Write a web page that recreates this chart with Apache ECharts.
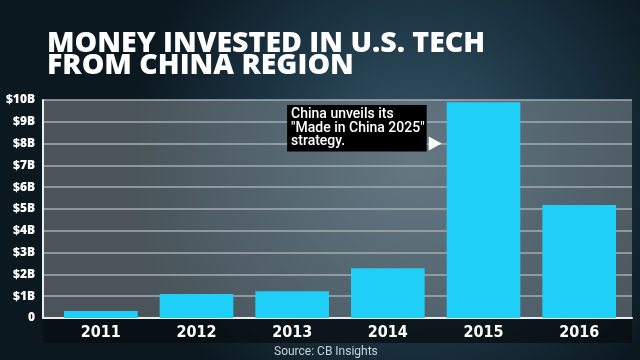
<!DOCTYPE html>
<html>
<head>
<meta charset="utf-8">
<script src="https://cdn.jsdelivr.net/npm/echarts@6/dist/echarts.min.js"></script>
<style>
html,body{margin:0;padding:0;background:#10202b;}
#chart{width:640px;height:360px;}
</style>
</head>
<body>
<div id="chart"></div>
<script>
// ---- data ----
const years = ['2011', '2012', '2013', '2014', '2015', '2016'];
const invested = [0.32, 1.1, 1.23, 2.28, 9.9, 5.18]; // $ billions
const yTickLabels = ['0', '$1B', '$2B', '$3B', '$4B', '$5B', '$6B', '$7B', '$8B', '$9B', '$10B'];
const titleLines = ['MONEY INVESTED IN U.S. TECH', 'FROM CHINA REGION'];
const noteLines = ['China unveils its', '"Made in China 2025"', 'strategy.'];
const noteYear = '2015';
const noteLevel = 8;
const sourceText = 'Source: CB Insights';

// ---- layout ----
const W = 640, H = 360;
const panelL = 43, panelR = 632, plotTop = 100, plotBottom = 318;
const barL = 53, barR = 627;
const barGap = 0.23;

const chart = echarts.init(document.getElementById('chart'), null, {renderer: 'canvas'});

const option = {
  animation: false,
  backgroundColor: {
    type: 'radial', x: 0.65, y: 0.45, r: 0.8,
    colorStops: [
      {offset: 0, color: '#3b5869'},
      {offset: 0.5, color: '#1e3847'},
      {offset: 1, color: '#0b1820'}
    ]
  },
  title: {
    text: titleLines.join('\n'),
    left: 42, top: 28,
    textStyle: {
      color: '#ffffff', fontFamily: "'Open Sans'", fontWeight: 800,
      fontSize: 28.5, lineHeight: 22
    }
  },
  grid: [
    {left: panelL, right: W - panelR, top: plotTop, bottom: H - plotBottom,
     show: true, backgroundColor: 'rgba(150,158,162,0.45)', borderWidth: 0},
    {left: barL, right: W - barR, top: plotTop, bottom: H - plotBottom}
  ],
  xAxis: [
    {gridIndex: 0, type: 'category', data: years, show: true,
     axisLine: {show: true, lineStyle: {color: '#e8eef0', width: 2}},
     axisTick: {show: false}, axisLabel: {show: false}},
    {gridIndex: 1, type: 'category', data: years,
     axisLine: {show: false}, axisTick: {show: false},
     axisLabel: {color: '#ffffff',
                 fontFamily: "'DejaVu Sans Condensed', 'Liberation Sans Narrow', 'Roboto', sans-serif",
                 fontWeight: 'bold', fontSize: 16, margin: 7}}
  ],
  yAxis: [
    {gridIndex: 0, type: 'value', min: 0, max: 10, interval: 1,
     axisLine: {show: true, lineStyle: {color: '#e8eef0', width: 2}},
     axisTick: {show: false},
     splitLine: {show: true, lineStyle: {color: '#a3adb2', width: 1.5}},
     axisLabel: {color: '#ffffff', fontFamily: "'Open Sans'", fontWeight: 800, fontSize: 12, margin: 8,
                 formatter: (v) => yTickLabels[Math.round(v)]}},
    {gridIndex: 1, type: 'value', min: 0, max: 10, interval: 1, show: false}
  ],
  series: [{
    type: 'bar', xAxisIndex: 1, yAxisIndex: 1,
    data: invested, barCategoryGap: (barGap * 100) + '%',
    itemStyle: {color: '#1fcff7'},
    z: 3
  }]
};
chart.setOption(option);

// annotation placed through the chart's own scales
const pt = chart.convertToPixel({xAxisIndex: 1, yAxisIndex: 1}, [noteYear, noteLevel]);
const band = (barR - barL) / years.length;
const barLeftEdge = pt[0] - band * (1 - barGap) / 2;
const tipX = barLeftEdge - 5;
const triW = 13, triH = 14;
chart.setOption({
  graphic: [
    {
      type: 'rect', z: 0,
      shape: {x: panelL, y: plotBottom, width: panelR - panelL, height: 25},
      style: {fill: 'rgba(8,14,18,0.78)'}
    },
    {
      type: 'text', left: 274, top: 346,
      style: {text: sourceText, fill: '#c9d2d7', font: '12px Roboto'}
    },
    {
      type: 'polygon', z: 10,
      shape: {points: [[tipX, pt[1]], [tipX - triW, pt[1] - triH / 2], [tipX - triW, pt[1] + triH / 2]]},
      style: {fill: '#ffffff'}
    },
    {
      type: 'text', z: 10,
      right: W - (tipX - triW - 2), bottom: H - (pt[1] + 8),
      style: {
        text: noteLines.join('\n'),
        fill: '#ffffff', font: '500 14px Roboto', lineHeight: 13.5,
        backgroundColor: '#000000', padding: [3, 2, 3, 4]
      }
    }
  ]
});
</script>
</body>
</html>
